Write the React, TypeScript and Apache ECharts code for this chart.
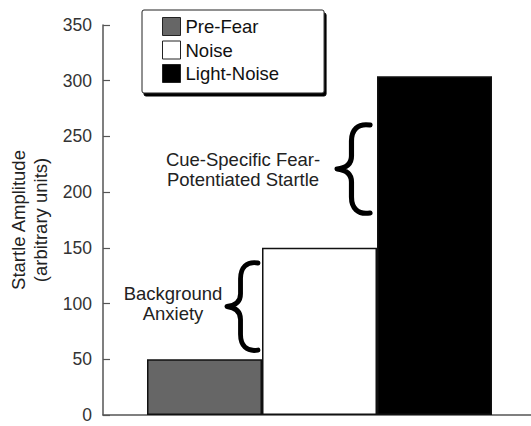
import React, { useEffect, useRef } from "react";
import * as echarts from "echarts";

const seriesNames = ["Pre-Fear", "Noise", "Light-Noise"];
const seriesValues = [50, 150, 304];
const seriesColors = ["#666666", "#ffffff", "#000000"];
const categories = ["Startle"];
const yTicks = { min: 0, max: 350, interval: 50 };
const yTitle = "Startle Amplitude\n(arbitrary units)";
const annotationCue = "Cue-Specific Fear-\nPotentiated Startle";
const annotationBg = "Background\nAnxiety";

const FONT = "'Liberation Sans', Arial, Helvetica, sans-serif";

const BRACE_D =
  "M34,3 C22,1 16,8 16,19 L16,34 C16,42 11,46 2,47 C11,48 16,52 16,60 L16,75 C16,86 22,93 34,91";

let registered = false;
function ensureBrace() {
  if (registered) return;
  registered = true;
  echarts.graphic.registerShape("brace", echarts.graphic.extendPath(BRACE_D, {}) as any);
}

export default function App() {
  const ref = useRef<HTMLDivElement>(null);
  useEffect(() => {
    if (!ref.current) return;
    ensureBrace();
    const chart = echarts.init(ref.current, null, { renderer: "svg" });
    const option: any = {
      animation: false,
      backgroundColor: "#ffffff",
      textStyle: { fontFamily: FONT },
      grid: {
        left: 103,
        right: -5,
        top: 25,
        bottom: 11,
        containLabel: false,
        outerBoundsMode: "none",
      },
      legend: {
        orient: "vertical",
        left: 142,
        top: 10,
        padding: [7, 45, 10, 20],
        itemWidth: 18,
        itemHeight: 18,
        itemGap: 4.5,
        itemTextGap: 10,
        backgroundColor: "#ffffff",
        borderColor: "#222",
        borderWidth: 1,
        borderRadius: 2,
        shadowColor: "#000",
        shadowOffsetX: 2,
        shadowOffsetY: 3,
        shadowBlur: 0,
        selectedMode: false,
        textStyle: { fontSize: 18.5, lineHeight: 18, color: "#111", fontFamily: FONT },
        data: seriesNames.map((n, i) => ({
          name: n,
          icon: "rect",
          itemStyle: { color: seriesColors[i], borderColor: "#222", borderWidth: 1 },
        })),
      },
      xAxis: {
        type: "category",
        data: categories,
        axisLine: { lineStyle: { color: "#555", width: 1.5 } },
        axisTick: { show: false },
        axisLabel: { show: false },
      },
      yAxis: {
        type: "value",
        min: yTicks.min,
        max: yTicks.max,
        interval: yTicks.interval,
        name: yTitle,
        nameLocation: "middle",
        nameGap: 52,
        nameRotate: 90,
        nameTextStyle: { fontSize: 18.5, color: "#222", lineHeight: 22, fontFamily: FONT },
        axisLine: { show: true, lineStyle: { color: "#555", width: 1.5 } },
        axisTick: { show: true, inside: true, length: 7, lineStyle: { color: "#555", width: 1.2 } },
        axisLabel: { fontSize: 17.5, lineHeight: 16, color: "#333", margin: 11, fontFamily: FONT },
        splitLine: { show: false },
      },
      series: seriesNames.map((n, i) => ({
        name: n,
        type: "bar",
        data: [seriesValues[i]],
        barWidth: 115,
        barGap: "0%",
        itemStyle: { color: seriesColors[i], borderColor: "#111", borderWidth: 1.5 },
      })),
      graphic: [
        {
          type: "text",
          x: 243,
          y: 149,
          style: {
            text: annotationCue,
            fontSize: 18.5,
            lineHeight: 20,
            fill: "#222",
            fontFamily: FONT,
            align: "center",
            verticalAlign: "top",
          },
        },
        {
          type: "text",
          x: 173,
          y: 283,
          style: {
            text: annotationBg,
            fontSize: 18.5,
            lineHeight: 20,
            fill: "#222",
            fontFamily: FONT,
            align: "center",
            verticalAlign: "top",
          },
        },
        {
          type: "brace",
          x: 335,
          y: 122,
          scaleX: 1.03,
          scaleY: 1.0,
          style: { fill: "none", stroke: "#000", lineWidth: 5, lineCap: "round", lineJoin: "round" },
        },
        {
          type: "brace",
          x: 225,
          y: 260,
          scaleX: 0.97,
          scaleY: 0.99,
          style: { fill: "none", stroke: "#000", lineWidth: 5, lineCap: "round", lineJoin: "round" },
        },
      ],
    };
    chart.setOption(option);
    return () => chart.dispose();
  }, []);
  return (
    <div
      ref={ref}
      style={{ position: "fixed", left: 0, top: 0, width: 531, height: 426 }}
    />
  );
}
